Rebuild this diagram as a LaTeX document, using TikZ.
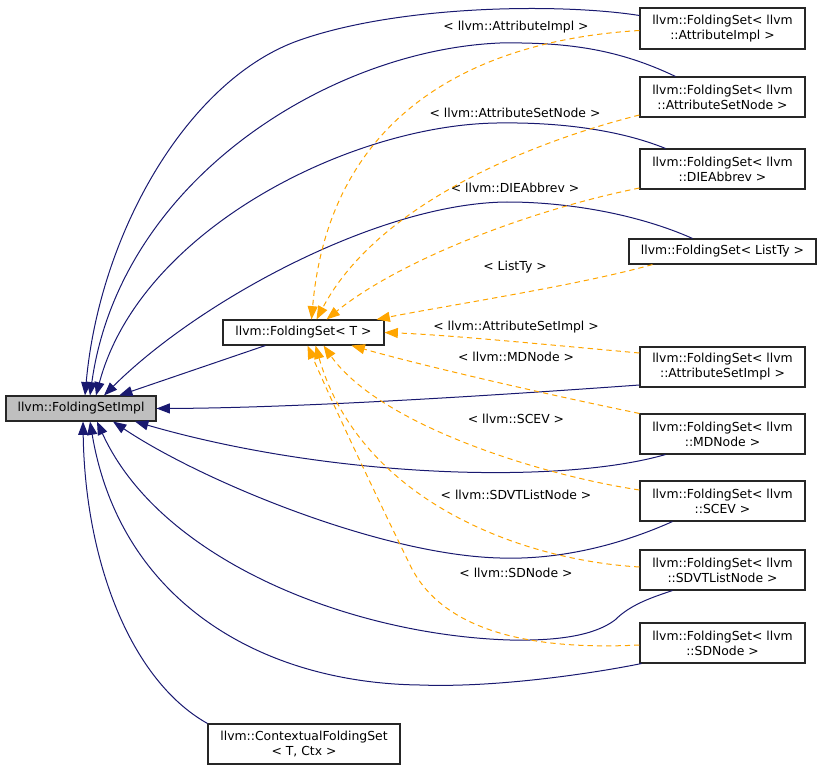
\documentclass[tikz,border=0pt]{standalone}
\usepackage{fontspec}
\setmainfont{DejaVu Sans}
\usepackage{tikz}
\usetikzlibrary{calc,arrows.meta}
\definecolor{edgeblue}{HTML}{191970}
\definecolor{edgeorange}{HTML}{FFA500}
\definecolor{implgray}{HTML}{BFBFBF}
\tikzstyle{every node}=[font=\fontsize{9.3}{11.25}\selectfont]
\tikzstyle{cls}=[draw=black!85,fill=white,line width=0.8pt,inner sep=0pt,
        align=center,minimum width=123.75pt,minimum height=30pt]
\tikzstyle{inherit}=[-{Triangle[length=10pt,width=7.5pt]},edgeblue,line width=0.75pt]
\tikzstyle{tmpl}=[-{Triangle[length=10pt,width=7.5pt]},edgeorange,line width=0.75pt,
        dash pattern=on 4pt off 3pt]

\begin{document}
\begin{tikzpicture}[x=0.75pt,y=-0.75pt]
        \useasboundingbox (0,0) rectangle (821,770);

        % base class and template:
        \node (impl) [cls,fill=implgray,minimum width=112.5pt,minimum height=18.75pt] at (81,408.5) {llvm::FoldingSetImpl};
        \node (fst) [cls,minimum width=120.75pt,minimum height=18.75pt] at (303.5,332.5) {llvm::FoldingSet< T >};
        % instantiations, right column:
        \node (ai) [cls,minimum height=30.75pt] at (722.5,28.5) {llvm::FoldingSet< llvm\\::AttributeImpl >};
        \node (asn) [cls] at (722.5,97) {llvm::FoldingSet< llvm\\::AttributeSetNode >};
        \node (die) [cls] at (722.5,169) {llvm::FoldingSet< llvm\\::DIEAbbrev >};
        \node (lty) [cls,minimum width=140.25pt,minimum height=18.75pt] at (722.5,251.5) {llvm::FoldingSet< ListTy >};
        \node (asi) [cls] at (722.5,367) {llvm::FoldingSet< llvm\\::AttributeSetImpl >};
        \node (md) [cls] at (722.5,434) {llvm::FoldingSet< llvm\\::MDNode >};
        \node (scev) [cls] at (722.5,501) {llvm::FoldingSet< llvm\\::SCEV >};
        \node (sdvt) [cls] at (722.5,570) {llvm::FoldingSet< llvm\\::SDVTListNode >};
        \node (sdn) [cls] at (722.5,643) {llvm::FoldingSet< llvm\\::SDNode >};
        % bottom:
        \node (ctx) [cls,minimum width=144pt] at (304,744) {llvm::ContextualFoldingSet\\< T, Ctx >};

        % template arguments:
        \node (l_ai) at (516,27) {< llvm::AttributeImpl >};
        \node (l_asn) at (515,113) {< llvm::AttributeSetNode >};
        \node (l_die) at (515,188) {< llvm::DIEAbbrev >};
        \node (l_lty) at (515,267) {< ListTy >};
        \node (l_asi) at (516,327) {< llvm::AttributeSetImpl >};
        \node (l_md) at (516,357) {< llvm::MDNode >};
        \node (l_scev) at (516,419) {< llvm::SCEV >};
        \node (l_sdvt) at (516,495) {< llvm::SDVTListNode >};
        \node (l_sdn) at (516,573) {< llvm::SDNode >};

        % inheritance edges into FoldingSetImpl:
        \draw[inherit] ($(ai.west)+(0,-13)$) .. controls (560,3) and (400,5) .. (300,40)
                .. controls (190,78) and (100,230) .. ($(impl.north)+(4,0)$);
        \draw[inherit] ($(asn.north)+(-47,0)$) .. controls (620,50) and (570,42) .. (500,43)
                .. controls (330,50) and (120,180) .. ($(impl.north)+(9,0)$);
        \draw[inherit] ($(die.north)+(-57,0)$) .. controls (620,130) and (560,122) .. (497,123)
                .. controls (350,125) and (140,230) .. ($(impl.north)+(15,0)$);
        \draw[inherit] ($(lty.north)+(-30,0)$) .. controls (640,215) and (570,202) .. (507,202)
                .. controls (380,203) and (200,300) .. ($(impl.north)+(23,0)$);
        \draw[inherit] (fst) -- (impl);
        \draw[inherit] ($(asi.west)+(0,18)$) .. controls (500,395) and (300,408) .. (impl.east);
        \draw[inherit] ($(md.south)+(-57,0)$) .. controls (560,485) and (330,478) .. ($(impl.south)+(54,0)$);
        \draw[inherit] ($(scev.south)+(-50,0)$) .. controls (620,545) and (560,560) .. (500,558)
                .. controls (380,555) and (200,480) .. ($(impl.south)+(32,0)$);
        \draw[inherit] ($(sdvt.south)+(-50,0)$) .. controls (650,598) and (630,605) .. (615,620)
                .. controls (595,635) and (560,641) .. (510,640)
                .. controls (350,635) and (160,560) .. ($(impl.south)+(16,0)$);
        \draw[inherit] ($(sdn.south west)+(2,0)$) .. controls (600,672) and (500,688) .. (420,685)
                .. controls (260,683) and (120,600) .. ($(impl.south)+(9,0)$);
        \draw[inherit] (ctx.north west) .. controls (130,680) and (85,560) .. ($(impl.south)+(2,0)$);

        % template instantiation edges into FoldingSet< T >:
        \draw[tmpl] ($(ai.west)+(0,2)$) .. controls (480,40) and (330,110) .. ($(fst.north)+(8,0)$);
        \draw[tmpl] ($(asn.west)+(0,18)$) .. controls (540,140) and (380,200) .. ($(fst.north)+(13,0)$);
        \draw[tmpl] ($(die.west)+(0,19)$) .. controls (530,210) and (400,260) .. ($(fst.north)+(23,0)$);
        \draw[tmpl] ($(lty.south)+(-70,0)$) .. controls (580,285) and (450,305) .. ($(fst.north east)+(-8,0)$);
        \draw[tmpl] ($(asi.west)+(0,-14)$) .. controls (550,345) and (450,335) .. (fst.east);
        \draw[tmpl] (md.north west) .. controls (540,393) and (420,365) .. ($(fst.south)+(48,0)$);
        \draw[tmpl] ($(scev.west)+(0,-11)$) .. controls (540,475) and (380,425) .. ($(fst.south)+(20,0)$);
        \draw[tmpl] ($(sdvt.west)+(0,-3)$) .. controls (520,560) and (360,500) .. ($(fst.south)+(12,0)$);
        \draw[tmpl] ($(sdn.west)+(0,2)$) .. controls (540,650) and (444,635) .. (410,565)
                .. controls (376,495) and (340,420) .. ($(fst.south)+(4,0)$);
\end{tikzpicture}
\end{document}
